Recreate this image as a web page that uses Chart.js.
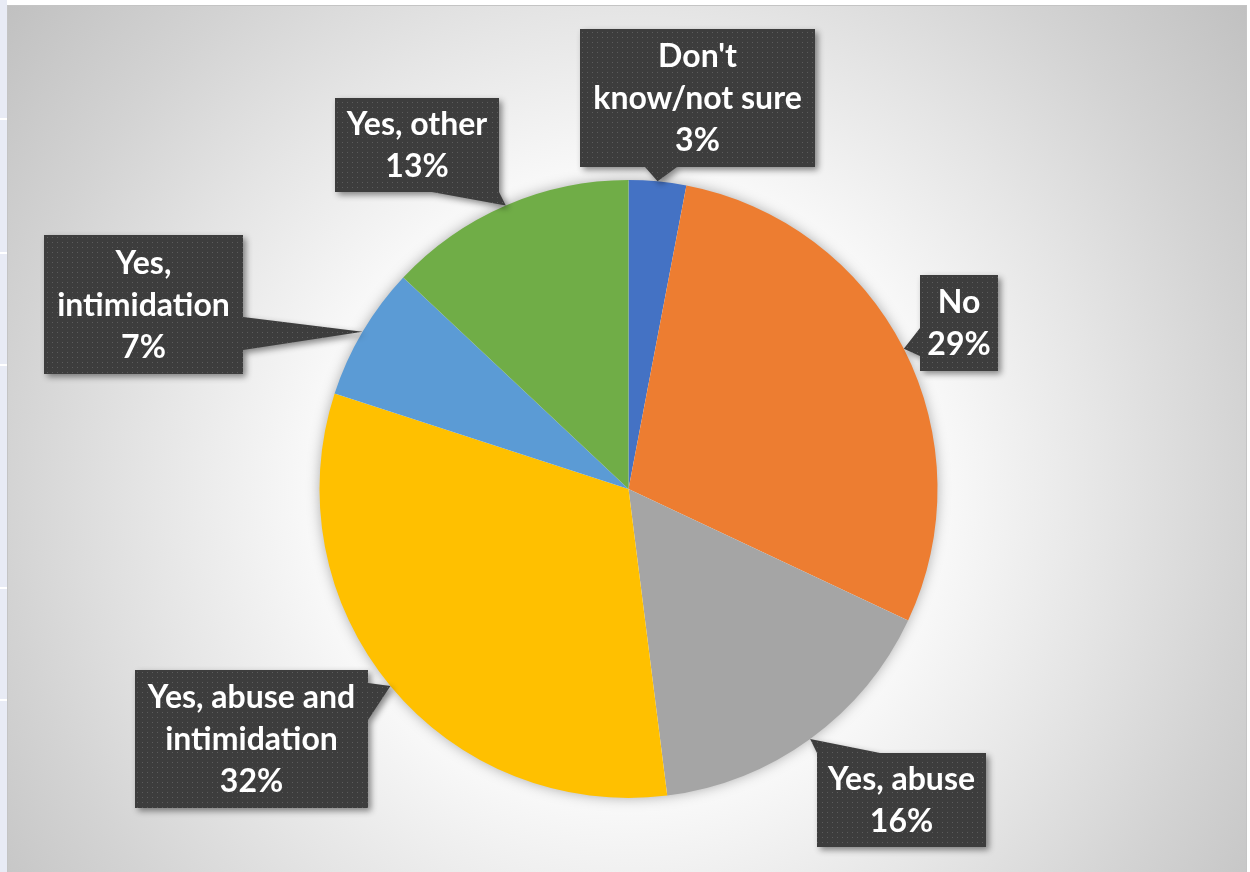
<!DOCTYPE html>
<html>
<head>
<meta charset="utf-8">
<script src="https://cdn.jsdelivr.net/npm/chart.js@4.4.1/dist/chart.umd.min.js"></script>
<style>
  html, body { margin: 0; padding: 0; background: #fff; }
  canvas { display: block; }
</style>
</head>
<body>
<canvas id="chart" width="1250" height="872"></canvas>
<script>
const categories = ["Don't know/not sure", 'No', 'Yes, abuse', 'Yes, abuse and intimidation', 'Yes, intimidation', 'Yes, other'];
const shares = [3, 29, 16, 32, 7, 13];
const labelLines = [["Don't", 'know/not sure'], ['No'], ['Yes, abuse'], ['Yes, abuse and', 'intimidation'], ['Yes,', 'intimidation'], ['Yes, other']];
const sliceColors = ['#4472C4', '#ED7D31', '#A5A5A5', '#FFC000', '#5B9BD5', '#70AD47'];

// callout boxes (x, y, w, h) and where the pointer leaves the box
const callouts = [
  { box: [580, 29, 235, 138], edge: 'bottom', from: 645, to: 677 },
  { box: [920, 275, 78, 96], edge: 'left', from: 328, to: 356 },
  { box: [817, 753, 169, 94], edge: 'top', from: 817, to: 880 },
  { box: [135, 670, 233, 138], edge: 'right', from: 683, to: 720 },
  { box: [44, 235, 199, 139], edge: 'right', from: 317, to: 350 },
  { box: [335, 98, 164, 94], edge: 'bottom', from: 432, to: 499 }
];
const stripTicks = [118, 252, 364, 587, 699];

function dotPattern(ctx) {
  const c = document.createElement('canvas');
  c.width = 5; c.height = 5;
  const p = c.getContext('2d');
  p.fillStyle = '#3d3d3d';
  p.fillRect(0, 0, 5, 5);
  p.fillStyle = '#5c5c5c';
  p.fillRect(2, 2, 1, 1);
  return ctx.createPattern(c, 'repeat');
}

const backdrop = {
  id: 'backdrop',
  beforeDraw(chart) {
    const ctx = chart.ctx;
    ctx.save();
    ctx.fillStyle = '#ffffff';
    ctx.fillRect(0, 0, chart.width, chart.height);
    ctx.fillStyle = '#e8ebf5';
    ctx.fillRect(0, 0, 7, chart.height);
    ctx.fillStyle = '#ffffff';
    stripTicks.forEach(y => ctx.fillRect(0, y, 7, 2));
    const g = ctx.createRadialGradient(628, 489, 0, 628, 489, 800);
    g.addColorStop(0, '#ffffff');
    g.addColorStop(0.37, '#fbfbfb');
    g.addColorStop(0.6, '#e5e5e5');
    g.addColorStop(0.78, '#d3d3d3');
    g.addColorStop(1, '#bfbfbf');
    ctx.fillStyle = g;
    ctx.fillRect(7, 5, 1240, chart.height);
    ctx.strokeStyle = '#c4c4c4';
    ctx.lineWidth = 1;
    ctx.strokeRect(7.5, 5.5, 1239, chart.height + 5);
    ctx.restore();
  },
  beforeDatasetsDraw(chart) {
    const el = chart.getDatasetMeta(0).data[0];
    if (!el) return;
    const { x, y, outerRadius } = el.getProps(['x', 'y', 'outerRadius'], true);
    const ctx = chart.ctx;
    ctx.save();
    ctx.shadowColor = 'rgba(0,0,0,0.35)';
    ctx.shadowBlur = 14;
    ctx.fillStyle = '#ffffff';
    ctx.beginPath();
    ctx.arc(x, y, outerRadius - 1, 0, Math.PI * 2);
    ctx.fill();
    ctx.restore();
  }
};

const calloutLabels = {
  id: 'calloutLabels',
  afterDatasetsDraw(chart) {
    const ctx = chart.ctx;
    const pat = dotPattern(ctx);
    const meta = chart.getDatasetMeta(0);
    meta.data.forEach((el, i) => {
      const a = el.getProps(['x', 'y', 'startAngle', 'endAngle', 'outerRadius'], true);
      const mid = (a.startAngle + a.endAngle) / 2;
      const tx = a.x + Math.cos(mid) * a.outerRadius;
      const ty = a.y + Math.sin(mid) * a.outerRadius;
      const c = callouts[i];
      const [bx, by, bw, bh] = c.box;

      ctx.save();
      ctx.beginPath();
      ctx.rect(bx, by, bw, bh);
      if (c.edge === 'bottom') {
        ctx.moveTo(c.from, by + bh); ctx.lineTo(tx, ty); ctx.lineTo(c.to, by + bh);
      } else if (c.edge === 'top') {
        ctx.moveTo(c.from, by); ctx.lineTo(tx, ty); ctx.lineTo(c.to, by);
      } else if (c.edge === 'left') {
        ctx.moveTo(bx, c.from); ctx.lineTo(tx, ty); ctx.lineTo(bx, c.to);
      } else {
        ctx.moveTo(bx + bw, c.from); ctx.lineTo(tx, ty); ctx.lineTo(bx + bw, c.to);
      }
      ctx.closePath();
      ctx.shadowColor = 'rgba(0,0,0,0.45)';
      ctx.shadowBlur = 6;
      ctx.shadowOffsetX = 3;
      ctx.shadowOffsetY = 3;
      ctx.fillStyle = pat;
      ctx.fill('nonzero');
      ctx.restore();

      const lines = labelLines[i].concat([shares[i] + '%']);
      const lh = 42;
      const cy = by + bh / 2;
      ctx.save();
      ctx.fillStyle = '#ffffff';
      ctx.font = 'bold 32px Lato, "Open Sans", sans-serif';
      ctx.textAlign = 'center';
      ctx.textBaseline = 'middle';
      lines.forEach((t, k) => {
        ctx.fillText(t, bx + bw / 2, cy + (k - (lines.length - 1) / 2) * lh + 1);
      });
      ctx.restore();
    });
  }
};

new Chart(document.getElementById('chart'), {
  type: 'pie',
  data: {
    labels: categories,
    datasets: [{
      data: shares,
      backgroundColor: sliceColors,
      borderWidth: 0
    }]
  },
  options: {
    responsive: false,
    animation: false,
    layout: { padding: { left: 319, right: 312, top: 180, bottom: 74 } },
    plugins: {
      legend: { display: false },
      tooltip: { enabled: false }
    }
  },
  plugins: [backdrop, calloutLabels]
});
</script>
</body>
</html>
